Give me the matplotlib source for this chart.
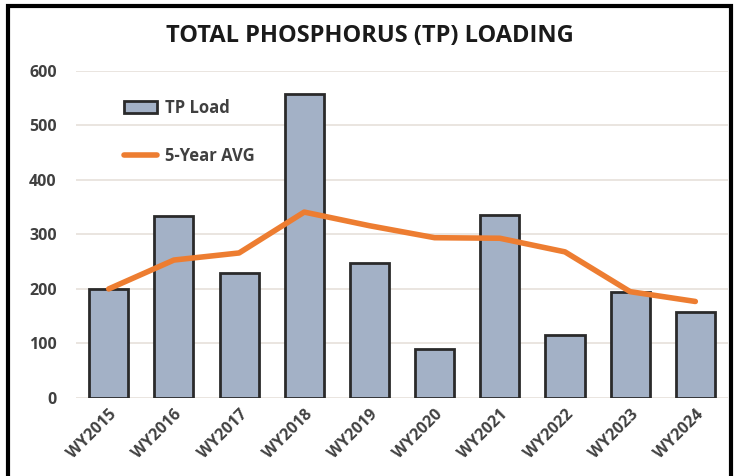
import numpy as np
import matplotlib.pyplot as plt
import matplotlib.patches as patches

years = ['WY2015', 'WY2016', 'WY2017', 'WY2018', 'WY2019',
         'WY2020', 'WY2021', 'WY2022', 'WY2023', 'WY2024']
tp_load = [200, 334, 229, 558, 248, 90, 336, 116, 195, 157]
avg_5yr = [200, 253, 266, 341, 316, 294, 293, 268, 195, 177]

plt.rcParams['font.family'] = ['Open Sans', 'DejaVu Sans']

fig = plt.figure(figsize=(7.39, 4.76), dpi=100)
ax = fig.add_axes([0.103, 0.164, 0.882, 0.687])

x = np.arange(len(years))
bars = ax.bar(x, tp_load, width=0.6, color='#a3b1c6', edgecolor='#2a2a2a',
              linewidth=2, label='TP Load', zorder=2)
line, = ax.plot(x, avg_5yr, color='#ed7d31', linewidth=4, label='5-Year AVG',
                solid_capstyle='round', zorder=3)

ax.set_xlim(-0.5, len(years) - 0.5)
ax.set_ylim(0, 600)
ax.set_yticks(range(0, 601, 100))
ax.grid(axis='y', color='#e6e0da', linewidth=1.2, zorder=0)
ax.set_axisbelow(True)
for s in ax.spines.values():
    s.set_visible(False)
ax.tick_params(length=0, labelsize=11.5, labelcolor='#404040')
ax.tick_params(axis='y', pad=14)
ax.tick_params(axis='x', pad=6)
ax.set_xticks(x)
ax.set_xticklabels(years, rotation=45, ha='right', rotation_mode='anchor',
                   fontweight='bold')
for lbl in ax.get_yticklabels():
    lbl.set_fontweight('bold')

ax.legend([bars, line], ['TP Load', '5-Year AVG'], loc='upper left',
          bbox_to_anchor=(0.05, 0.96), frameon=False,
          prop={'weight': 'bold', 'size': 12},
          labelcolor='#404040', handlelength=2.0, handletextpad=0.5,
          labelspacing=1.8)

fig.text(0.5, 0.925, 'TOTAL PHOSPHORUS (TP) LOADING', ha='center',
         va='center', fontsize=17, fontweight='bold', color='#1a1a1a')

# black frame around the figure
fig.patches.append(patches.Rectangle((0.011, -0.05), 0.978, 1.038,
                                     transform=fig.transFigure, fill=False,
                                     edgecolor='black', linewidth=3))

fig.savefig('out.png', dpi=100)
